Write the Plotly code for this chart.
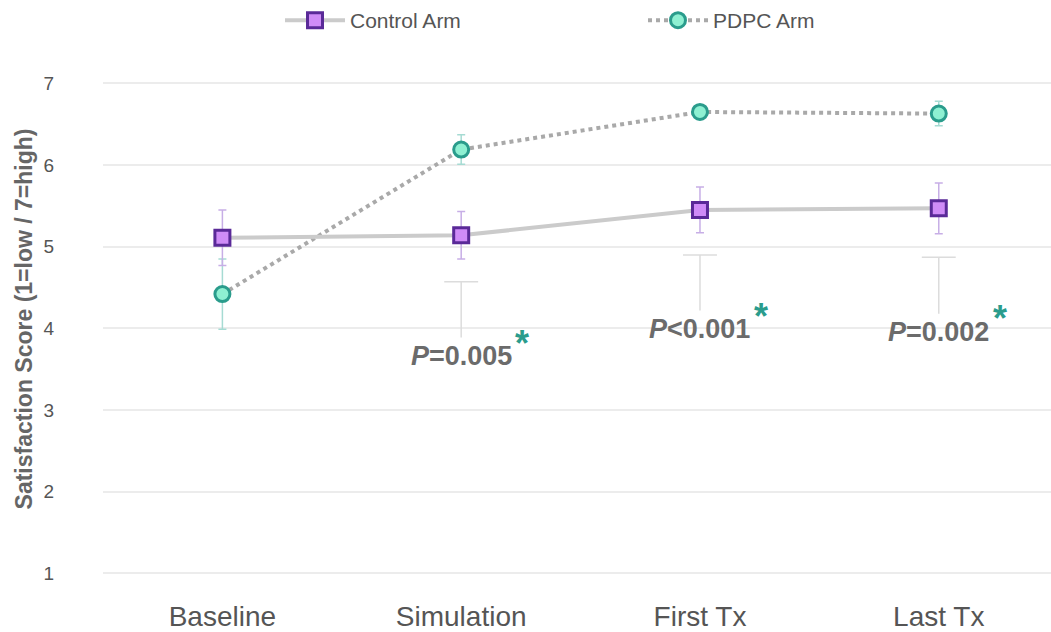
import plotly.graph_objects as go

categories = ["Baseline", "Simulation", "First Tx", "Last Tx"]
x_pos = [0, 1, 2, 3]

control_mean = [5.11, 5.14, 5.45, 5.47]
control_err = [0.34, 0.29, 0.28, 0.31]
pdpc_mean = [4.42, 6.19, 6.65, 6.63]
pdpc_err = [0.43, 0.18, 0.08, 0.15]

# significance brackets (Simulation, First Tx, Last Tx)
sig_x = [1, 2, 3]
sig_top = [4.57, 4.90, 4.87]
sig_bottom = [3.89, 4.22, 4.18]
sig_label = ["<b><i>P</i>=0.005</b>", "<b><i>P</i>&lt;0.001</b>", "<b><i>P</i>=0.002</b>"]
sig_label_y = [3.66, 3.99, 3.96]

y_ticks = [1, 2, 3, 4, 5, 6, 7]

FONT = "Liberation Sans, Arial, sans-serif"

fig = go.Figure()

# brackets
bx, by = [], []
cap = 0.071
for xi, t, b in zip(sig_x, sig_top, sig_bottom):
    bx += [xi - cap, xi + cap, None, xi, xi, None]
    by += [t, t, None, t, b, None]
fig.add_trace(go.Scatter(x=bx, y=by, mode="lines", line=dict(color="#dcdcdc", width=1.5),
                         showlegend=False, hoverinfo="skip"))

fig.add_trace(go.Scatter(
    x=x_pos, y=pdpc_mean, name="PDPC Arm", mode="lines+markers",
    line=dict(color="#a9a9a9", width=4, dash="dot"),
    marker=dict(symbol="circle", size=15, color="#8ef0d2", line=dict(color="#2a9c8c", width=3)),
    error_y=dict(type="data", array=pdpc_err, color="#a6dbd3", thickness=1.5, width=4),
))
fig.add_trace(go.Scatter(
    x=x_pos, y=control_mean, name="Control Arm", mode="lines+markers",
    line=dict(color="#cbcbcb", width=4),
    marker=dict(symbol="square", size=15, color="#cf8cf7", line=dict(color="#5a2a98", width=3)),
    error_y=dict(type="data", array=control_err, color="#c7aee6", thickness=1.5, width=4),
))

for xi, lab, ly in zip(sig_x, sig_label, sig_label_y):
    fig.add_annotation(x=xi, y=ly, text=lab, showarrow=False,
                       font=dict(family=FONT, size=27, color="#6b6b6b"))
    fig.add_annotation(x=xi, y=ly, text="<b>*</b>", showarrow=False, xshift=61, yshift=13,
                       font=dict(family=FONT, size=36, color="#2a9c8c"))

fig.update_layout(
    width=1051, height=632,
    margin=dict(l=103, r=0, t=45, b=32),
    paper_bgcolor="white", plot_bgcolor="white",
    font=dict(family=FONT, color="#555555"),
    legend=dict(orientation="h", x=(280 - 103) / 948, xanchor="left", y=1.045, yanchor="middle",
                traceorder="reversed", font=dict(size=21, color="#555555"),
                entrywidth=288, entrywidthmode="pixels", itemwidth=60),
    showlegend=True,
)
fig.update_xaxes(range=[-0.5, 3.47], tickvals=x_pos, ticktext=categories,
                 showgrid=False, zeroline=False, showline=False,
                 tickfont=dict(size=28, color="#555555"), ticklabelstandoff=4)
fig.update_yaxes(range=[0.76, 7.47], tickvals=y_ticks, showgrid=True, gridcolor="#ececec",
                 gridwidth=1.5, zeroline=False, showline=False,
                 tickfont=dict(size=19, color="#555555"), ticklabelstandoff=48,
                 title=dict(text="<b>Satisfaction Score (1=low / 7=high)</b>",
                            font=dict(size=23, color="#666666"), standoff=4))

fig.write_html("out.html")
